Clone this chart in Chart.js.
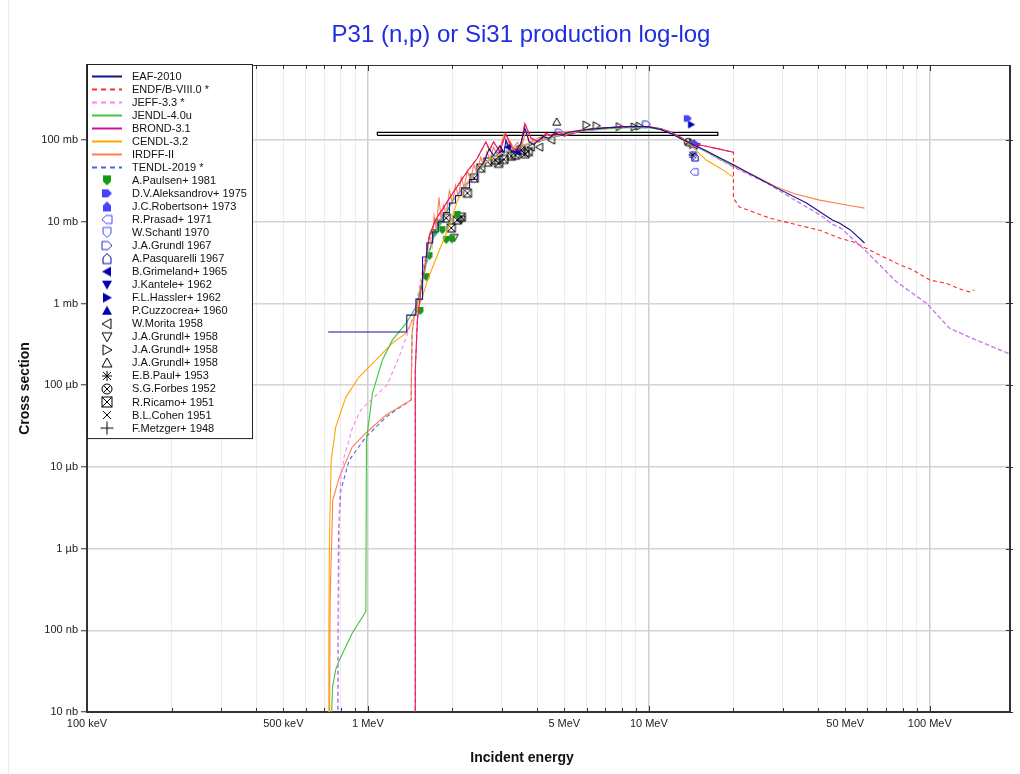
<!DOCTYPE html>
<html>
<head>
<meta charset="utf-8">
<script src="https://cdn.jsdelivr.net/npm/chart.js@4.4.0/dist/chart.umd.min.js"></script>
<style>
  html, body { margin: 0; padding: 0; background: #fff; }
  #wrap { position: relative; width: 1020px; height: 774px; }
  #wrap:before { content: ""; position: absolute; left: 8px; top: 0; bottom: 0; border-left: 1px solid #ececec; }
  canvas { position: relative; }
</style>
</head>
<body>
<div id="wrap"><canvas id="chart" width="1020" height="774"></canvas></div>
<script>
// energies in MeV, cross sections in mb
const X_MIN = 0.1, X_MAX = 193, Y_MIN = 1e-5, Y_MAX = 830;

const xLabelVals = [0.1, 0.5, 1, 5, 10, 50, 100];
const xLabels = ["100 keV", "500 keV", "1 MeV", "5 MeV", "10 MeV", "50 MeV", "100 MeV"];
const yTickVals = [1e-5, 1e-4, 1e-3, 1e-2, 1e-1, 1, 10, 100];
const yLabels = ["10 nb", "100 nb", "1 µb", "10 µb", "100 µb", "1 mb", "10 mb", "100 mb"];

// evaluated libraries
const eafE = [0.722,1.375,1.375,1.482,1.482,1.565,1.565,1.62,1.62,1.70,1.70,1.78,1.78,1.86,1.86,1.95,1.95,2.05,2.05,2.15,2.15,2.30,2.30,2.45,2.45,2.60,2.70,2.80,2.95,3.05,3.10,3.20,3.35,3.50,3.62,3.75,3.90,4.05,4.20,4.40,4.60,4.90,5.20,6.0,7.0,8.0,9.0,10.0,11.0,12.0,13.0,14.0,16.0,18.0,20.0,25.0,28.5,36.4,45.0,47.8,52.0,58.6];
const eafS = [0.447,0.447,0.72,0.72,1.13,1.13,3.7,3.7,5.5,5.5,7.5,7.5,10,10,13,13,17,17,21,21,26,26,33,33,42,55,78,65,85,70,100,76,72,90,140,95,88,100,110,105,120,115,125,135,141,145,147,145,135,120,104,92,74,60,50,33,26,17,10.5,9.6,8,5.5];

const endfE = [1.474,1.474,1.50,1.55,1.60,1.65,1.74,1.90,2.02,2.23,2.45,2.63,2.71,2.80,2.95,3.09,3.27,3.47,3.62,3.81,4.08,4.30,4.52,4.80,5.0,6.0,7.0,8.0,9.0,10.0,11.0,12.0,13.0,14.0,16.0,18.0,20.0,20.0,21.0,26.9,36.4,40.5,47.8,53.3,64.6,78.2,87.1,100,114.6,131,138.6,144];
const endfS = [1e-6,0.15,0.63,1.6,3.1,6.6,10.5,16.8,23.3,39,60,95,75,95,72,120,79,75,160,105,95,121,110,126,112,135,141,144,146,145,138,125,108,91,84,77,71,19.5,15.2,11.1,8.6,7.9,6.3,5.7,4.1,2.97,2.57,1.94,1.76,1.46,1.39,1.46];

const jeffE = [0.779,0.786,0.791,0.801,0.823,0.883,0.943,1.024,1.17,1.292,1.385,1.46,1.52,1.58,1.65,1.75,1.85,2.0,2.2,2.4,2.6,2.8,3.0,3.5,4.0,5.0,6.0,7.0,8.0,9.0,10.0,11.0,12.0,13.0,14.0,16.0,18.0,20.0,26.3,36.4,40.5,45.1,48.4,57.7,76.0,97.6,117.6,146.6,193];
const jeffS = [1e-6,1e-4,3.25e-3,7.57e-3,0.0133,0.031,0.0496,0.0658,0.100,0.223,0.43,0.763,1.5,3.0,5.5,9,13,18,27,38,50,62,70,84,96,120,132,139,143,145,144,136,122,105,92,72,57,47,29.8,15.2,12.3,9.3,8.3,4.8,1.85,1.0,0.496,0.356,0.24];

const jendlE = [0.738,0.748,0.768,0.791,0.879,0.983,0.988,1.038,1.126,1.221,1.368,1.482,1.55,1.62,1.70,1.80,1.90,2.0,2.2,2.4,2.6,2.8,3.0,3.5,4.0,5.0,6.0,7.0,8.0,9.0,10.0,11.0,12.0,13.0,14.0,16.0,18.0,20.0];
const jendlS = [5e-6,2.0e-5,3.3e-5,4.3e-5,9.2e-5,1.7e-4,0.0213,0.080,0.203,0.356,0.575,0.904,1.7,3.5,6.0,9.5,13,18,27,38,50,62,70,83,95,118,130,137,141,143,142,135,122,105,92,72,58,48];

const brondE = [1.474,1.474,1.50,1.55,1.60,1.65,1.74,1.90,2.02,2.23,2.45,2.63,2.71,2.80,2.95,3.09,3.27,3.47,3.62,3.81,4.08,4.30,4.52,4.80,5.0,6.0,7.0,8.0,9.0,10.0,11.0,12.0,13.0,14.0,16.0,18.0,20.0];
const brondS = [1e-6,0.15,0.63,1.6,3.1,6.6,10.5,16.8,23.3,39,60,95,75,95,72,120,79,75,160,105,95,121,110,126,112,135,141,144,146,145,138,125,108,91,84,77,71];

const cendlE = [0.722,0.726,0.730,0.740,0.768,0.835,0.93,1.067,1.221,1.368,1.46,1.55,1.62,1.70,1.84,1.98,2.08,2.25,2.5,2.7,3.0,3.5,4.0,5.0,6.0,7.0,8.0,9.0,10.0,11.0,12.0,13.0,14.0,16.0,18.0,20.0];
const cendlS = [1e-6,1e-4,1.55e-3,0.0121,0.0307,0.0715,0.126,0.203,0.327,0.434,0.682,1.1,1.8,2.8,5.5,10.5,18,28,45,58,68,85,98,120,132,140,145,146,145,136,122,105,88,57,45,35];

const irdffE = [0.728,0.7336,0.7495,0.791,0.879,0.983,1.16,1.425,1.436,1.46,1.50,1.55,1.60,1.62,1.66,1.69,1.72,1.75,1.79,1.82,1.86,1.90,1.95,2.0,2.05,2.10,2.15,2.2,2.26,2.32,2.38,2.45,2.52,2.58,2.65,2.72,2.80,2.88,2.95,3.05,3.12,3.2,3.3,3.4,3.52,3.65,3.75,3.9,4.1,4.3,4.6,5.0,5.5,6.0,7.0,8.0,9.0,10.0,11.0,12.0,13.0,14.0,16.0,18.0,20.0,24.0,28.5,33.0,40.5,50.0,58.6];
const irdffS = [1e-6,2.34e-4,3.92e-3,7.5e-3,0.0175,0.026,0.0431,0.0658,0.434,0.68,0.95,1.8,2.6,3.5,7,5,12,8,20,11,16,12,24,17,28,20,35,26,42,32,50,40,62,48,72,58,82,66,78,118,88,98,80,94,80,132,95,100,108,112,120,125,130,136,141,144,145,144,137,122,106,93,73,58,48,36,26.6,22,18.4,16.2,14.7];

const tendlE = [0.779,0.786,0.801,0.858,0.983,1.16,1.258,1.425,1.436,1.48,1.55,1.62,1.70,1.80,1.90,2.0,2.2,2.4,2.6,2.8,3.0,3.5,4.0,5.0,6.0,7.0,8.0,9.0,10.0,11.0,12.0,13.0,14.0,16.0,18.0,20.0,26.3,36.4,40.5,45.1,48.4,57.7,76.0,97.6,117.6,146.6,193];
const tendlS = [1e-6,1.55e-3,5.2e-3,0.0121,0.0232,0.0407,0.0496,0.0658,0.434,0.9,1.6,3.2,6,9.5,13,18,27,38,50,62,70,84,96,120,132,139,143,145,144,136,122,105,92,72,57,47,29.8,15.2,12.3,9.3,8.3,4.8,1.85,1.0,0.496,0.356,0.24];

// wide-energy measurement drawn as a box
const boxE = [1.08, 17.6];
const boxS = [114.5, 124.3];

// measurements
const paulsenE = [1.536,1.613,1.654,1.722,1.78,1.84,1.90,1.99,2.08];
const paulsenS = [0.81,2.1,3.8,7.3,9.6,7.9,6.0,6.1,12.1];
const aleksE = [13.76,14.6], aleksS = [184,88];
const robertsonE = [14.4], robertsonS = [90];
const prasadE = [14.5], prasadS = [40.9];
const schantlE = [14.4], schantlS = [64];
const grundl67E = [4.8,9.8], grundl67S = [124,156];
const pasqE = [14.6], pasqS = [62];
const grimelandE = [2.95,3.15,3.4], grimelandS = [70,82,72];
const kanteleE = [14.8], kanteleS = [84];
const hasslerE = [14.15], hasslerS = [155];
const cuzzE = [14.5], cuzzS = [92];
const moritaE = [3.81,4.08,4.5], moritaS = [82,82,100];
const grundlDE = [2.03,2.15], grundlDS = [6.4,10.7];
const grundlRE = [5.99,6.51,7.86,8.89,9.26], grundlRS = [153,150,146,145,148];
const grundlUE = [4.7], grundlUS = [167];
const paulE = [14.3], paulS = [66];
const forbesE = [13.8], forbesS = [94];
const ricamoE = [1.90,1.98,2.08,2.15,2.26,2.39,2.52,2.67,2.84,2.92,3.05,3.24,3.35,3.5,3.62,3.72];
const ricamoS = [11.1,8.4,10.5,11.4,22.4,34.3,45.4,53.8,57,52,58,63.7,65.5,75.5,68,72];
const cohenE = [14.5], cohenS = [88];
const metzgerE = [14.0], metzgerS = [90];

const pts = (xs, ys) => xs.map((x, i) => ({ x, y: ys[i] }));
const isDecade = (v) => Math.abs(Math.log10(v) - Math.round(Math.log10(v))) < 1e-6;

const xTickVals = [];
for (const d of [0.1, 1, 10, 100]) {
  for (let k = 1; k <= 9; k++) if (d * k <= X_MAX) xTickVals.push(d * k);
}

function makeMarker(shape, color, filled, scale) {
  const size = Math.ceil(14 * scale);
  const c = document.createElement("canvas");
  c.width = size; c.height = size;
  const g = c.getContext("2d");
  g.translate(size / 2, size / 2);
  g.scale(scale, scale);
  g.strokeStyle = color; g.fillStyle = color; g.lineWidth = 1 / scale;
  const poly = (p) => {
    g.beginPath();
    p.forEach(([x, y], i) => i ? g.lineTo(x, y) : g.moveTo(x, y));
    g.closePath();
    filled ? g.fill() : g.stroke();
  };
  const seg = (a, b, c2, d) => { g.beginPath(); g.moveTo(a, b); g.lineTo(c2, d); g.stroke(); };
  switch (shape) {
    case "shieldD": poly([[-4,-5],[4,-5],[4,1],[0,5],[-4,1]]); break;
    case "shieldU": poly([[0,-5],[4,-1],[4,5],[-4,5],[-4,-1]]); break;
    case "shieldR": poly([[-5,-4],[1,-4],[5,0],[1,4],[-5,4]]); break;
    case "shieldL": poly([[-5,0],[-1,-4],[5,-4],[5,4],[-1,4]]); break;
    case "triL": poly([[-5,0],[4,-5],[4,5]]); break;
    case "triR": poly([[5,0],[-4,-5],[-4,5]]); break;
    case "triU": poly([[0,-5],[5,4],[-5,4]]); break;
    case "triD": poly([[0,5],[5,-4],[-5,-4]]); break;
    case "star": seg(-5,0,5,0); seg(0,-5,0,5); seg(-4,-4,4,4); seg(-4,4,4,-4); break;
    case "circX": g.beginPath(); g.arc(0,0,5,0,2*Math.PI); g.stroke(); seg(-3.5,-3.5,3.5,3.5); seg(-3.5,3.5,3.5,-3.5); break;
    case "boxX": g.strokeRect(-5,-5,10,10); seg(-5,-5,5,5); seg(-5,5,5,-5); break;
    case "cross": seg(-4,-4,4,4); seg(-4,4,4,-4); break;
    case "plus": seg(-6.5,0,6.5,0); seg(0,-6.5,0,6.5); break;
  }
  return c;
}

const lineSet = (label, xs, ys, color, dash) => ({
  label, data: pts(xs, ys), borderColor: color, borderWidth: 1.1,
  borderDash: dash || [], pointRadius: 0, tension: 0, fill: false, isLine: true,
});
const markSet = (label, xs, ys, shape, color, filled) => ({
  label, data: pts(xs, ys), showLine: false, pointRadius: 4,
  pointStyle: makeMarker(shape, color, filled, 0.8),
  legendMark: makeMarker(shape, color, filled, 1.0),
  isLine: false,
});

const BLUE = "#4444ff", NAVY = "#0000b4";
const datasets = [
  lineSet("EAF-2010", eafE, eafS, "#141487"),
  lineSet("ENDF/B-VIII.0 *", endfE, endfS, "#ff2a2a", [4, 3]),
  lineSet("JEFF-3.3 *", jeffE, jeffS, "#ff80f0", [4, 3]),
  lineSet("JENDL-4.0u", jendlE, jendlS, "#3cc83c"),
  lineSet("BROND-3.1", brondE, brondS, "#cc1493"),
  lineSet("CENDL-3.2", cendlE, cendlS, "#ffa500"),
  lineSet("IRDFF-II", irdffE, irdffS, "#ff7f50"),
  lineSet("TENDL-2019 *", tendlE, tendlS, "#4466e0", [4, 3]),
  markSet("A.Paulsen+ 1981", paulsenE, paulsenS, "shieldD", "#159a15", true),
  markSet("D.V.Aleksandrov+ 1975", aleksE, aleksS, "shieldR", BLUE, true),
  markSet("J.C.Robertson+ 1973", robertsonE, robertsonS, "shieldU", BLUE, true),
  markSet("R.Prasad+ 1971", prasadE, prasadS, "shieldL", BLUE, false),
  markSet("W.Schantl 1970", schantlE, schantlS, "shieldD", BLUE, false),
  markSet("J.A.Grundl 1967", grundl67E, grundl67S, "shieldR", "#2a2ad0", false),
  markSet("A.Pasquarelli 1967", pasqE, pasqS, "shieldU", NAVY, false),
  markSet("B.Grimeland+ 1965", grimelandE, grimelandS, "triL", NAVY, true),
  markSet("J.Kantele+ 1962", kanteleE, kanteleS, "triD", NAVY, true),
  markSet("F.L.Hassler+ 1962", hasslerE, hasslerS, "triR", NAVY, true),
  markSet("P.Cuzzocrea+ 1960", cuzzE, cuzzS, "triU", NAVY, true),
  markSet("W.Morita 1958", moritaE, moritaS, "triL", "#000", false),
  markSet("J.A.Grundl+ 1958", grundlDE, grundlDS, "triD", "#000", false),
  markSet("J.A.Grundl+ 1958", grundlRE, grundlRS, "triR", "#000", false),
  markSet("J.A.Grundl+ 1958", grundlUE, grundlUS, "triU", "#000", false),
  markSet("E.B.Paul+ 1953", paulE, paulS, "star", "#000", false),
  markSet("S.G.Forbes 1952", forbesE, forbesS, "circX", "#000", false),
  markSet("R.Ricamo+ 1951", ricamoE, ricamoS, "boxX", "#000", false),
  markSet("B.L.Cohen 1951", cohenE, cohenS, "cross", "#000", false),
  markSet("F.Metzger+ 1948", metzgerE, metzgerS, "plus", "#000", false),
];
datasets.push({
  label: "box", inLegend: false, isLine: true,
  data: pts([boxE[0], boxE[1], boxE[1], boxE[0], boxE[0]], [boxS[0], boxS[0], boxS[1], boxS[1], boxS[0]]),
  borderColor: "#000", borderWidth: 1.2, pointRadius: 0, tension: 0, fill: false,
});

const FONT = "Arial, 'Liberation Sans', sans-serif";

const framePlugin = {
  id: "frame",
  afterDatasetsDraw(chart) {
    const { ctx, chartArea: a, scales: { x, y } } = chart;
    ctx.save();
    ctx.strokeStyle = "#333";
    ctx.lineWidth = 1;
    ctx.beginPath(); ctx.moveTo(a.left, a.top + 0.5); ctx.lineTo(a.right, a.top + 0.5); ctx.stroke();
    ctx.lineWidth = 2;
    ctx.beginPath(); ctx.moveTo(a.right, a.top); ctx.lineTo(a.right, a.bottom + 1); ctx.stroke();
    ctx.lineWidth = 1;
    for (const t of x.ticks) {
      const px = Math.round(x.getPixelForValue(t.value)) + 0.5;
      const len = isDecade(t.value) ? 6 : 4;
      ctx.beginPath();
      ctx.moveTo(px, a.bottom); ctx.lineTo(px, a.bottom - len);
      ctx.moveTo(px, a.top); ctx.lineTo(px, a.top + len);
      ctx.stroke();
    }
    for (const t of y.ticks) {
      const py = Math.round(y.getPixelForValue(t.value)) + 0.5;
      ctx.beginPath(); ctx.moveTo(a.right - 4, py); ctx.lineTo(a.right + 3, py); ctx.stroke();
    }
    ctx.restore();
  },
};

const legendPlugin = {
  id: "boxLegend",
  afterDraw(chart) {
    const { ctx } = chart;
    const items = chart.data.datasets.filter(d => d.inLegend !== false);
    const x0 = 87, y0 = 64, w = 165, rowH = 13.04, firstY = 76;
    const h = firstY - y0 + rowH * (items.length - 1) + 10;
    ctx.save();
    ctx.fillStyle = "#fff";
    ctx.fillRect(x0, y0, w, h);
    ctx.strokeStyle = "#222"; ctx.lineWidth = 1;
    ctx.strokeRect(x0 + 0.5, y0 + 0.5, w, h);
    ctx.font = `11px ${FONT}`;
    ctx.textBaseline = "middle";
    items.forEach((d, i) => {
      const cy = firstY + i * rowH;
      if (d.isLine) {
        ctx.strokeStyle = d.borderColor; ctx.lineWidth = 2;
        ctx.setLineDash(d.borderDash && d.borderDash.length ? [5, 4] : []);
        ctx.beginPath(); ctx.moveTo(92, Math.round(cy) + 0.5); ctx.lineTo(122, Math.round(cy) + 0.5); ctx.stroke();
        ctx.setLineDash([]);
      } else {
        const m = d.legendMark;
        ctx.drawImage(m, 107 - m.width / 2, cy - m.height / 2);
      }
      ctx.fillStyle = "#111";
      ctx.fillText(d.label, 132, cy + 0.5);
    });
    ctx.restore();
  },
};

const titlePlugin = {
  id: "titles",
  afterDraw(chart) {
    const { ctx, chartArea: a } = chart;
    ctx.save();
    ctx.textAlign = "center"; ctx.textBaseline = "middle";
    ctx.fillStyle = "#1f2fe0";
    ctx.font = `24px ${FONT}`;
    ctx.fillText("P31 (n,p) or Si31 production log-log", 521, 35);
    ctx.fillStyle = "#111";
    ctx.font = `bold 14px ${FONT}`;
    ctx.fillText("Incident energy", 522, 758);
    ctx.translate(25, (a.top + a.bottom) / 2);
    ctx.rotate(-Math.PI / 2);
    ctx.fillText("Cross section", 0, 0);
    ctx.restore();
  },
};

new Chart(document.getElementById("chart"), {
  type: "line",
  data: { datasets },
  options: {
    responsive: false,
    animation: false,
    devicePixelRatio: 1,
    layout: { padding: { top: 65, right: 10, left: 0, bottom: 0 } },
    scales: {
      x: {
        type: "logarithmic", min: X_MIN, max: X_MAX,
        afterBuildTicks: (s) => { s.ticks = xTickVals.map(v => ({ value: v })); },
        afterFit: (s) => { s.height = 62; },
        ticks: {
          autoSkip: false, maxRotation: 0, padding: 5, color: "#222",
          font: { family: FONT, size: 11 },
          callback: (v) => {
            const i = xLabelVals.findIndex(t => Math.abs(t - v) / t < 1e-6);
            return i >= 0 ? xLabels[i] : "";
          },
        },
        grid: {
          drawTicks: false,
          color: (c) => c.tick && isDecade(c.tick.value) ? "#cfcfcf" : "#ececec",
          lineWidth: (c) => c.tick && isDecade(c.tick.value) ? 1.5 : 1,
        },
        border: { color: "#333", width: 2 },
      },
      y: {
        type: "logarithmic", min: Y_MIN, max: Y_MAX,
        afterBuildTicks: (s) => { s.ticks = yTickVals.map(v => ({ value: v })); },
        afterFit: (s) => { s.width = 87; },
        ticks: {
          autoSkip: false, padding: 3, color: "#222",
          font: { family: FONT, size: 11 },
          callback: (v, i) => yLabels[i],
        },
        grid: { color: "#d4d4d4", lineWidth: 1.5, tickLength: 6, tickColor: "#333", tickWidth: 1 },
        border: { color: "#333", width: 2 },
      },
    },
    plugins: {
      legend: { display: false },
      tooltip: { enabled: false },
      title: { display: false },
    },
  },
  plugins: [framePlugin, titlePlugin, legendPlugin],
});
</script>
</body>
</html>
